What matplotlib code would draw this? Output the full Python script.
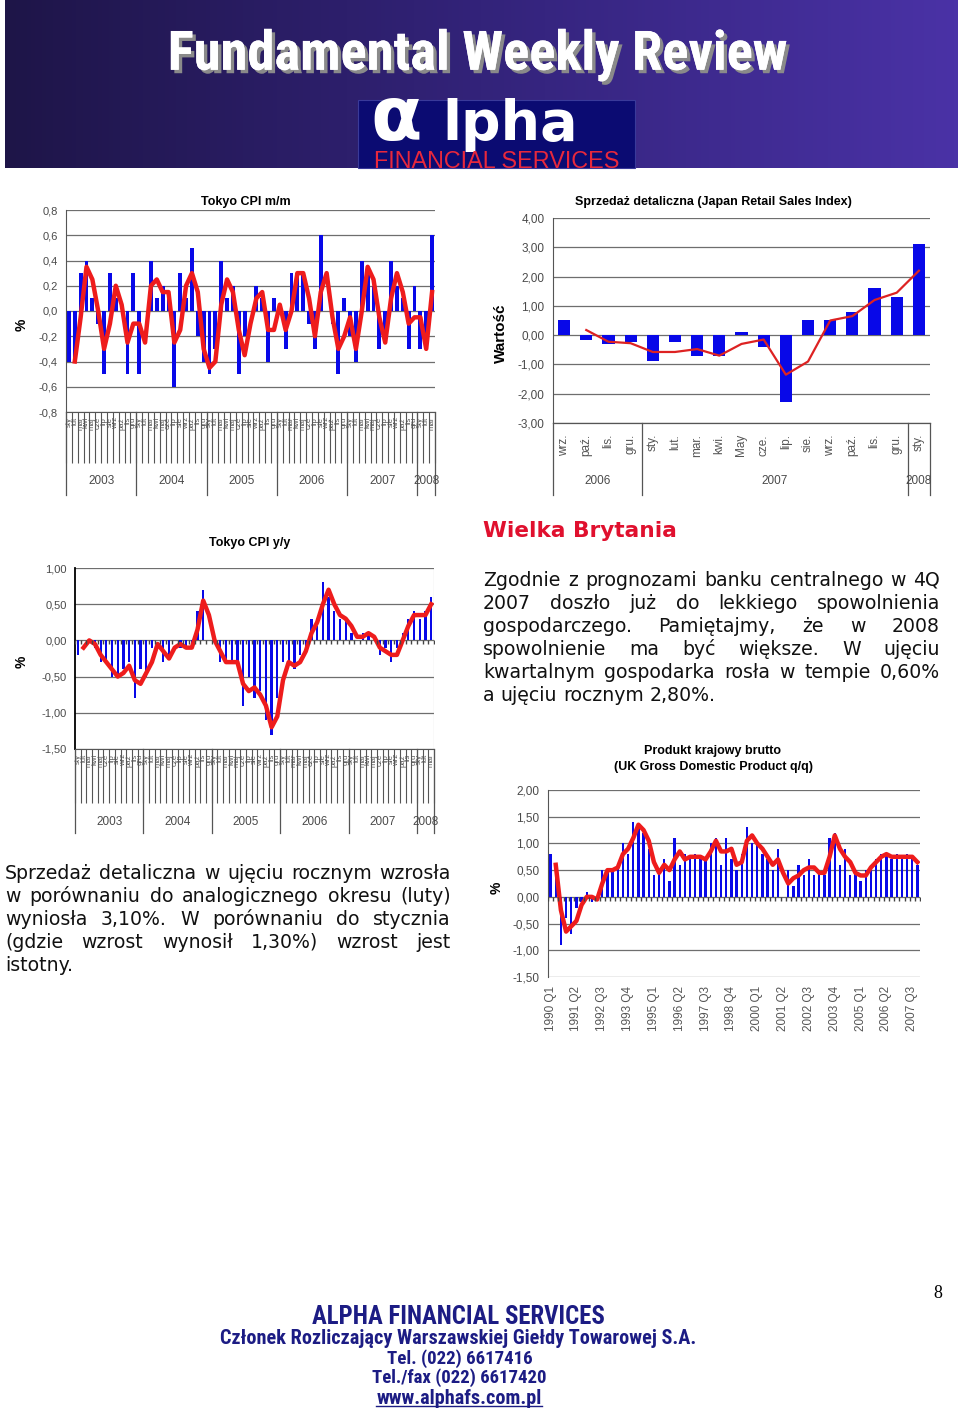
import numpy as np
import pandas as pd
import matplotlib
matplotlib.use("Agg")
import matplotlib.pyplot as plt
from matplotlib.transforms import blended_transform_factory
from matplotlib.patches import Rectangle
from matplotlib.colors import LinearSegmentedColormap
import matplotlib.patheffects as pe

W, H = 960, 1413

# ---------------- data ----------------
months_pl = ["sty", "lut", "mar", "kwi", "maj", "cze", "lip", "sie", "wrz", "paź", "lis", "gru"]
cpi_years = ["2003", "2004", "2005", "2006", "2007", "2008"]
cpi_year_len = [12, 12, 12, 12, 12, 3]

cpi_mm = [-0.4, -0.4, 0.3, 0.4, 0.1, -0.1, -0.5, 0.3, 0.1, 0.0, -0.5, 0.3,
          -0.5, 0.0, 0.4, 0.1, 0.2, 0.1, -0.6, 0.3, 0.1, 0.5, -0.2, -0.4,
          -0.5, -0.3, 0.4, 0.1, 0.2, -0.5, -0.2, 0.0, 0.2, 0.1, -0.4, 0.1,
          0.0, -0.3, 0.3, 0.3, 0.3, -0.1, -0.3, 0.6, 0.0, -0.1, -0.5, 0.1,
          -0.2, -0.4, 0.4, 0.3, 0.2, -0.3, -0.2, 0.4, 0.2, 0.1, -0.3, 0.2,
          -0.3, -0.3, 0.6]

cpi_yy = [-0.2, 0.0, 0.0, -0.1, -0.3, -0.3, -0.5, -0.5, -0.4, -0.3, -0.8, -0.4,
          -0.5, -0.1, 0.0, -0.3, -0.2, 0.0, -0.1, -0.1, -0.1, 0.4, 0.7, 0.0,
          0.0, -0.3, -0.3, -0.3, -0.3, -0.9, -0.5, -0.8, -0.7, -1.1, -1.3, -0.8,
          -0.3, -0.3, -0.4, -0.2, -0.1, 0.3, 0.2, 0.8, 0.6, 0.4, 0.3, 0.3,
          0.1, 0.0, 0.1, 0.1, 0.0, -0.2, -0.1, -0.3, -0.1, 0.1, 0.3, 0.4,
          0.3, 0.4, 0.6]

retail_labels = ["wrz.", "paź.", "lis.", "gru.", "sty.", "lut.", "mar.", "kwi.", "May",
                 "cze.", "lip.", "sie.", "wrz.", "paź.", "lis.", "gru.", "sty."]
retail_years = ["2006", "2007", "2008"]
retail_year_len = [4, 12, 1]
retail_values = [0.5, -0.15, -0.3, -0.25, -0.9, -0.25, -0.7, -0.7, 0.1,
                 -0.4, -2.3, 0.5, 0.5, 0.8, 1.6, 1.3, 3.1]

gdp_years = list(range(1990, 2008))
gdp_values = [0.8, 0.4, -0.9, -0.4, -0.7, -0.2, -0.1, 0.1, -0.1, 0.0, 0.5, 0.5,
              0.5, 0.6, 1.0, 0.8, 1.4, 1.3, 1.2, 0.9, 0.4, 0.5, 0.7, 0.3,
              1.1, 0.6, 0.8, 0.7, 0.8, 0.7, 0.7, 1.0, 1.1, 0.6, 1.1, 0.7,
              0.5, 0.8, 1.3, 1.0, 1.0, 0.8, 0.7, 0.5, 0.9, 0.0, 0.5, 0.2,
              0.6, 0.4, 0.7, 0.4, 0.5, 0.4, 1.1, 1.2, 0.6, 0.9, 0.4, 0.5,
              0.3, 0.5, 0.6, 0.7, 0.8, 0.8, 0.7, 0.8, 0.7, 0.8, 0.7, 0.6]
gdp_labels = [f"{y} Q{q}" for y in gdp_years for q in range(1, 5)]

text_right = ["Zgodnie z prognozami banku centralnego w 4Q",
              "2007 doszło już do lekkiego spowolnienia",
              "gospodarczego. Pamiętajmy, że w 2008",
              "spowolnienie ma być większe. W ujęciu",
              "kwartalnym gospodarka rosła w tempie 0,60%",
              "a ujęciu rocznym 2,80%."]
text_left = ["Sprzedaż detaliczna w ujęciu rocznym wzrosła",
             "w porównaniu do analogicznego okresu (luty)",
             "wyniosła 3,10%. W porównaniu do stycznia",
             "(gdzie wzrost wynosił 1,30%) wzrost jest",
             "istotny."]
footer_lines = ["ALPHA FINANCIAL SERVICES",
                "Członek Rozliczający Warszawskiej Giełdy Towarowej S.A.",
                "Tel. (022) 6617416",
                "Tel./fax (022) 6617420",
                "www.alphafs.com.pl"]

BLUE = "#0808e8"
RED = "#ee1c1c"
GRID = "#6e6e6e"
TICKC = "#4a4a4a"
SANS = ["Liberation Sans", "DejaVu Sans"]
COND = ["Roboto Condensed", "Open Sans Condensed", "Noto Sans Condensed",
        "DejaVu Sans Condensed", "Liberation Sans Narrow", "Liberation Sans",
        "DejaVu Sans"]
VERD = ["DejaVu Sans"]

fig = plt.figure(figsize=(W / 100, H / 100), dpi=100)
fig.patch.set_facecolor("white")
renderer = fig.canvas.get_renderer()


def fx(x):
    return x / W


def fy(y):
    return 1 - y / H


def add_ax(x0, y0, x1, y1, **kw):
    return fig.add_axes([fx(x0), fy(y1), (x1 - x0) / W, (y1 - y0) / H], **kw)


def ftext(x, y, s, **kw):
    return fig.text(fx(x), fy(y), s, **kw)


def fit_width(t, target):
    w = t.get_window_extent(renderer).width
    if w > 0:
        t.set_fontsize(t.get_fontsize() * target / w)


# ---------------- header ----------------
ban = add_ax(5, 0, 958, 168)
grad = np.linspace(0, 1, 256)[None, :]
cm = LinearSegmentedColormap.from_list("b", ["#1e1548", "#33237a", "#4a32a6"])
ban.imshow(grad, aspect="auto", cmap=cm, extent=[0, 1, 0, 1])
ban.axis("off")

title = ftext(478, 55, "Fundamental Weekly Review", fontsize=50, fontweight="bold",
              family=COND, fontstretch="condensed", color="white", ha="center",
              va="center",
              path_effects=[pe.withSimplePatchShadow(offset=(2.5, -2.5),
                                                     shadow_rgbFace="#8a8a8a", alpha=1),
                            pe.Normal()])
fit_width(title, 620)

fig.patches.append(Rectangle((fx(358), fy(168)), (635 - 358) / W, (168 - 100) / H,
                             transform=fig.transFigure, facecolor="#0b0b72",
                             edgecolor="#3a3a9a", lw=0.8))
ftext(370, 140, "α", fontsize=54, family=["DejaVu Sans"], fontweight="bold",
      color="white", ha="left", va="baseline")
ftext(442, 140, "lpha", fontsize=40, fontweight="bold", family=["DejaVu Sans"],
      color="white", ha="left", va="baseline")
fs_ = ftext(497, 162, "FINANCIAL SERVICES", fontsize=13, family=SANS,
            color="#e8283c", ha="center", va="center")
fit_width(fs_, 245)


# ---------------- chart helpers ----------------
def fmt_val(v, d):
    return f"{v:.{d}f}".replace(".", ",")


def style_value_axis(ax, ticks, dec, fs=8):
    ax.set_yticks(ticks)
    ax.set_yticklabels([fmt_val(t, dec) for t in ticks], fontsize=fs,
                       color=TICKC, family=SANS)
    ax.tick_params(axis="y", length=0, pad=6)
    ax.yaxis.grid(True, color=GRID, lw=0.9)
    ax.set_axisbelow(True)
    for s in ["top", "right", "bottom"]:
        ax.spines[s].set_visible(False)
    ax.spines["left"].set_color("#555555")


def monthly_chart(rect, values, ylim, ticks, dec, title, title_y, bar_w,
                  tick_len_px, div_px, year_y, mlab_y, ylab_pos):
    x0, y0, x1, y1 = rect
    ax = add_ax(x0, y0, x1, y1)
    n = len(values)
    x = np.arange(n)
    ax.bar(x, values, width=bar_w, color=BLUE, zorder=2)
    ma = pd.Series(values).rolling(2).mean()
    ax.plot(x, ma, color=RED, lw=3.2, zorder=3, solid_joinstyle="round")
    ax.set_xlim(-0.5, n - 0.5)
    ax.set_ylim(*ylim)
    style_value_axis(ax, ticks, dec)
    bounds = np.arange(n + 1) - 0.5
    ax.set_xticks(bounds)
    ax.set_xticklabels([])
    ax.tick_params(axis="x", length=tick_len_px * 0.72, color="#555555", width=0.8)
    ax.spines["bottom"].set_visible(True)
    ax.spines["bottom"].set_color("#555555")
    trans = blended_transform_factory(ax.transData, fig.transFigure)
    pos = -0.5
    edges = [pos]
    for L in cpi_year_len:
        pos += L
        edges.append(pos)
    for e in edges:
        ax.plot([e, e], [fy(y1), fy(div_px)], transform=trans, color="#555555",
                lw=0.9, clip_on=False)
    for i, (yr, L) in enumerate(zip(cpi_years, cpi_year_len)):
        c = (edges[i] + edges[i + 1]) / 2
        ax.text(c, fy(year_y), yr, transform=trans, ha="center", va="center",
                fontsize=8.5, color=TICKC, family=SANS)
    for i in range(n):
        ax.text(i, fy(mlab_y), months_pl[i % 12], transform=trans, rotation=90,
                ha="center", va="top", fontsize=5.6, color="#555555", family=SANS)
    ftext((x0 + x1) / 2 - 5, title_y, title, fontsize=9, fontweight="bold",
          family=SANS, ha="center", va="center")
    ftext(ylab_pos[0], ylab_pos[1], "%", fontsize=10, fontweight="bold",
          family=SANS, rotation=90, ha="center", va="center")
    return ax


# ---------------- chart 1: Tokyo CPI m/m ----------------
monthly_chart((66, 210, 435, 412), cpi_mm, (-0.8, 0.8),
              [0.8, 0.6, 0.4, 0.2, 0.0, -0.2, -0.4, -0.6, -0.8], 1,
              "Tokyo CPI m/m", 202, 0.65, 51, 495, 481, 417, (22, 325))

# ---------------- chart 3: Tokyo CPI y/y ----------------
ax3 = monthly_chart((75, 568, 434, 749), cpi_yy, (-1.5, 1.0),
                    [1.0, 0.5, 0.0, -0.5, -1.0, -1.5], 2,
                    "Tokyo CPI y/y", 543, 0.4, 54, 833, 822, 754, (22, 662))
ax3.spines["left"].set_color("black")
ax3.spines["left"].set_linewidth(1.3)
ax3.axvline(len(cpi_yy) - 0.5, color="#999999", lw=0.8)
ax3.plot(np.arange(len(cpi_yy) + 1) - 0.5, np.zeros(len(cpi_yy) + 1), ls="none",
         marker=3, ms=3, color="#444444", zorder=4)

# ---------------- chart 2: Retail sales ----------------
ax2 = add_ax(553, 218, 930, 423)
nr = len(retail_values)
xr = np.arange(nr)
ax2.bar(xr, retail_values, width=0.55, color=BLUE, zorder=2)
ma_r = pd.Series(retail_values).rolling(2).mean()
ax2.plot(xr, ma_r, color="#dd2222", lw=1.6, zorder=3)
ax2.set_xlim(-0.5, nr - 0.5)
ax2.set_ylim(-3, 4)
style_value_axis(ax2, [4, 3, 2, 1, 0, -1, -2, -3], 2, fs=8.5)
ax2.set_xticks([])
tr2 = blended_transform_factory(ax2.transData, fig.transFigure)
for i, lab in enumerate(retail_labels):
    ax2.text(i, fy(434), lab, transform=tr2, rotation=90, ha="center", va="top",
             fontsize=8.5, color="#555555", family=SANS)
pos = -0.5
edges_r = [pos]
for L in retail_year_len:
    pos += L
    edges_r.append(pos)
for e in edges_r:
    ax2.plot([e, e], [fy(423), fy(495)], transform=tr2, color="#555555", lw=0.9,
             clip_on=False)
ax2.plot([-0.5, nr - 0.5], [fy(423), fy(423)], transform=tr2, color="#555555", lw=0.9,
         clip_on=False)
for i, yr in enumerate(retail_years):
    c = (edges_r[i] + edges_r[i + 1]) / 2
    ax2.text(c, fy(481), yr, transform=tr2, ha="center", va="center", fontsize=8.5,
             color=TICKC, family=SANS)
ftext(713, 202, "Sprzedaż detaliczna (Japan Retail Sales Index)", fontsize=9,
      fontweight="bold", family=SANS, ha="center", va="center")
ftext(501, 333, "Wartość", fontsize=11, fontweight="bold", family=SANS,
      rotation=90, ha="center", va="center")

# ---------------- chart 4: UK GDP ----------------
ax4 = add_ax(548, 790, 920, 977)
ng = len(gdp_values)
xg = np.arange(ng)
ax4.bar(xg, gdp_values, width=0.45, color=BLUE, zorder=2)
ma_g = pd.Series(gdp_values).rolling(2).mean()
ax4.plot(xg, ma_g, color=RED, lw=3.2, zorder=3, solid_joinstyle="round")
ax4.set_xlim(-0.5, ng - 0.5)
ax4.set_ylim(-1.5, 2.0)
style_value_axis(ax4, [2.0, 1.5, 1.0, 0.5, 0.0, -0.5, -1.0, -1.5], 2, fs=8.5)
ax4.set_xticks([])
ax4.plot(np.arange(ng + 1) - 0.5, np.zeros(ng + 1), ls="none", marker=3, ms=3,
         color="#444444", zorder=4)
tr4 = blended_transform_factory(ax4.transData, fig.transFigure)
for i in range(0, ng, 5):
    ax4.text(i, fy(986), gdp_labels[i], transform=tr4, rotation=90, ha="center",
             va="top", fontsize=8.5, color="#555555", family=SANS)
ftext(713, 751, "Produkt krajowy brutto", fontsize=9, fontweight="bold",
      family=SANS, ha="center", va="center")
ftext(713, 767, "(UK Gross Domestic Product q/q)", fontsize=9, fontweight="bold",
      family=SANS, ha="center", va="center")
ftext(497, 888, "%", fontsize=10, fontweight="bold", family=SANS, rotation=90,
      ha="center", va="center")

# ---------------- texts ----------------
head = ftext(483, 531, "Wielka Brytania", fontsize=15, fontweight="bold", family=VERD,
             color="#e0102e", ha="left", va="center")
fit_width(head, 194)


def justify(lines, x0, x1, y0, dy, fs):
    probe = fig.text(0, 0, "a a", fontsize=fs, family=VERD)
    probe2 = fig.text(0, 0, "aa", fontsize=fs, family=VERD)
    sp = probe.get_window_extent(renderer).width - probe2.get_window_extent(renderer).width
    probe.remove()
    probe2.remove()
    for li, line in enumerate(lines):
        words = line.split(" ")
        y = y0 + li * dy
        objs = [ftext(0, y, w, fontsize=fs, family=VERD, color="#111111",
                      ha="left", va="baseline") for w in words]
        widths = [o.get_window_extent(renderer).width for o in objs]
        last = li == len(lines) - 1
        if last or len(words) == 1:
            gap = sp
        else:
            gap = (x1 - x0 - sum(widths)) / (len(words) - 1)
        x = x0
        for o, w in zip(objs, widths):
            o.set_position((fx(x), fy(y)))
            x += w + gap


justify(text_right, 483, 940, 586, 23, 13.6)
justify(text_left, 5, 451, 879, 23, 13.6)

# ---------------- footer ----------------
NAVY = "#1c1c84"
foot_y = [1317, 1338, 1359, 1378, 1398]
foot_x = [458, 458, 460, 459, 459]
foot_w = [294, 477, 145, 174, 165]
foot_fs = [15, 12, 12, 12, 12]
foot_objs = []
for s, x, y, w, f in zip(footer_lines, foot_x, foot_y, foot_w, foot_fs):
    t = ftext(x, y, s, fontsize=f, fontweight="bold", family=COND,
              fontstretch="condensed", color=NAVY, ha="center", va="center")
    fit_width(t, w)
    foot_objs.append(t)
bb = foot_objs[-1].get_window_extent(renderer)
fig.add_artist(plt.Line2D([bb.x0 / W, bb.x1 / W], [fy(1406), fy(1406)],
                          transform=fig.transFigure, color=NAVY, lw=1))
ftext(938, 1293, "8", fontsize=13, family=["Liberation Serif", "DejaVu Serif"],
      ha="center", va="center")

fig.savefig("out.png", dpi=100, facecolor="white")
